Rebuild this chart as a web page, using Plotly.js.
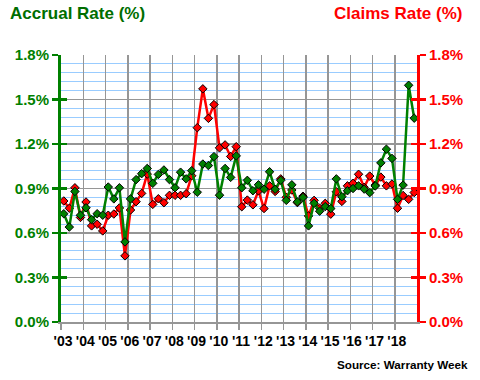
<!DOCTYPE html>
<html>
<head>
<meta charset="utf-8">
<script src="https://cdn.plot.ly/plotly-3.0.1.min.js"></script>
<style>html,body{margin:0;padding:0;background:#fff;}#chart{width:480px;height:380px;}</style>
</head>
<body>
<div id="chart"></div>
<script>
// Years shown on the x axis and their tick labels
const years = [2003,2004,2005,2006,2007,2008,2009,2010,2011,2012,2013,2014,2015,2016,2017,2018];
const yearLabels = ["'03","'04","'05","'06","'07","'08","'09","'10","'11","'12","'13","'14","'15","'16","'17","'18"];

// Quarterly accrual rate (% of product sales), 2003 Q1 .. 2018 Q4
const accrualRate = [
  0.73, 0.64, 0.88, 0.72,
  0.77, 0.69, 0.73, 0.72,
  0.91, 0.83, 0.905, 0.54,
  0.83, 0.96, 1.00, 1.035,
  0.935, 0.995, 1.025, 0.96,
  0.905, 1.01, 0.965, 1.02,
  0.875, 1.065, 1.055, 1.115,
  0.855, 1.035, 0.975, 1.12,
  0.905, 0.955, 0.885, 0.925,
  0.895, 1.013, 0.895, 0.955,
  0.82, 0.925, 0.81, 0.84,
  0.648, 0.80, 0.747, 0.778,
  0.765, 0.965, 0.845, 0.885,
  0.90, 0.918, 0.896, 0.872,
  0.917, 1.073, 1.165, 1.103,
  0.827, 0.923, 1.596, 1.374
];

// Quarterly claims rate (% of product sales), 2003 Q1 .. 2018 Q4
const claimsRate = [
  0.816, 0.767, 0.905, 0.705,
  0.809, 0.648, 0.659, 0.614,
  0.72, 0.728, 0.769, 0.446,
  0.755, 0.811, 0.867, 0.997,
  0.793, 0.831, 0.804, 0.854,
  0.854, 0.854, 0.865, 0.986,
  1.31, 1.572, 1.373, 1.466,
  1.174, 1.194, 1.116, 1.182,
  0.777, 0.822, 0.79, 0.884,
  0.765, 0.918, 0.88, 0.965,
  0.841, 0.89, 0.805, 0.848,
  0.715, 0.82, 0.767, 0.80,
  0.727, 0.878, 0.813, 0.918,
  0.935, 0.996, 0.908, 0.984,
  0.923, 0.977, 0.918, 0.93,
  0.767, 0.853, 0.827, 0.873
];

// quarter-centre positions on the numeric year axis
const quarterX = accrualRate.map((_, i) => years[0] + (i + 0.5) / 4);

const GREEN = 'rgb(0,128,0)';
const RED = 'rgb(255,0,0)';
const GREY = 'rgb(150,150,150)';
const FONT = 'Liberation Sans, Arial, sans-serif';

const traces = [
  {
    x: quarterX, y: claimsRate, type: 'scatter', mode: 'lines+markers',
    line: {color: RED, width: 2.5},
    marker: {symbol: 'diamond', size: 6.5, color: RED, line: {color: 'black', width: 1}},
    hoverinfo: 'skip', showlegend: false
  },
  {
    x: quarterX, y: accrualRate, type: 'scatter', mode: 'lines+markers',
    line: {color: GREEN, width: 2.5},
    marker: {symbol: 'diamond', size: 6.5, color: GREEN, line: {color: 'black', width: 1}},
    hoverinfo: 'skip', showlegend: false
  },
  {x: [], y: [], yaxis: 'y2', showlegend: false, hoverinfo: 'skip'},
  {x: [], y: [], yaxis: 'y3', showlegend: false, hoverinfo: 'skip'},
  {x: [], y: [], yaxis: 'y4', showlegend: false, hoverinfo: 'skip'}
];

const yRange = [0, 1.8001];
const tickF = (c) => ({family: FONT, size: 15, weight: 'bold', color: c});

const layout = {
  width: 480, height: 380,
  margin: {l: 61, r: 63, t: 55, b: 58, pad: 0},
  paper_bgcolor: 'white', plot_bgcolor: 'white',
  showlegend: false,
  xaxis: {
    range: [years[0], years[years.length - 1] + 1],
    tickmode: 'array', tickvals: years, ticktext: yearLabels,
    showgrid: true, gridcolor: GREY, gridwidth: 1.5,
    ticks: 'outside', ticklen: 6, tickwidth: 1.5, tickcolor: GREY,
    showline: true, linecolor: GREY, linewidth: 1.5,
    zeroline: false, ticklabelshift: 2,
    tickfont: {family: FONT, size: 14, weight: 'bold', color: 'black'},
    fixedrange: true
  },
  yaxis: {
    range: yRange, tick0: 0, dtick: 0.3, tickformat: '.1f', ticksuffix: '%',
    showgrid: true, gridcolor: GREY, gridwidth: 1.5,
    minor: {tick0: 0, dtick: 0.06, showgrid: true, gridcolor: 'rgb(153,204,255)', gridwidth: 1, ticks: ''},
    showline: true, linecolor: GREEN, linewidth: 3,
    ticks: 'outside', ticklen: 6, tickwidth: 2.5, tickcolor: GREEN,
    zeroline: false, tickfont: tickF(GREEN), side: 'left', fixedrange: true
  },
  yaxis2: {
    overlaying: 'y', anchor: 'x', side: 'right',
    range: yRange, tick0: 0, dtick: 0.3, tickformat: '.1f', ticksuffix: '%',
    showgrid: false, zeroline: false,
    showline: true, linecolor: RED, linewidth: 3,
    ticks: 'outside', ticklen: 6, tickwidth: 2.5, tickcolor: RED,
    tickfont: tickF(RED), fixedrange: true
  },
  yaxis3: {
    overlaying: 'y', anchor: 'x', side: 'left',
    range: yRange, tick0: 0, dtick: 0.3,
    showgrid: false, zeroline: false, showline: false, showticklabels: false,
    ticks: 'inside', ticklen: 6, tickwidth: 2.5, tickcolor: GREEN, fixedrange: true
  },
  yaxis4: {
    overlaying: 'y', anchor: 'x', side: 'right',
    range: yRange, tick0: 0, dtick: 0.3,
    showgrid: false, zeroline: false, showline: false, showticklabels: false,
    ticks: 'inside', ticklen: 6, tickwidth: 2.5, tickcolor: RED, fixedrange: true
  },
  annotations: [
    {text: 'Accrual Rate (%)', xref: 'paper', yref: 'paper', x: -0.149, y: 1.155,
     xanchor: 'left', yanchor: 'middle', showarrow: false,
     font: {family: FONT, size: 17, weight: 'bold', color: 'rgb(0,110,0)'}},
    {text: 'Claims Rate (%)', xref: 'paper', yref: 'paper', x: 1.132, y: 1.155,
     xanchor: 'right', yanchor: 'middle', showarrow: false,
     font: {family: FONT, size: 17, weight: 'bold', color: RED}},
    {text: 'Source: Warranty Week', xref: 'paper', yref: 'paper', x: 1.149, y: -0.161,
     xanchor: 'right', yanchor: 'middle', showarrow: false,
     font: {family: FONT, size: 11.7, weight: 'bold', color: 'black'}}
  ]
};

Plotly.newPlot('chart', traces, layout, {staticPlot: true, displayModeBar: false});
</script>
</body>
</html>
